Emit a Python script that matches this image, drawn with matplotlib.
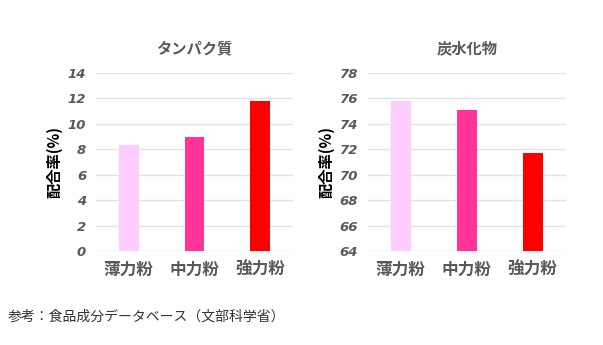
import matplotlib
matplotlib.use('Agg')
import matplotlib.pyplot as plt

plt.rcParams['font.family'] = ['Noto Sans CJK JP', 'DejaVu Sans']

# %%
flours = ['薄力粉', '中力粉', '強力粉']
protein = [8.3, 9.0, 11.8]
carbs = [75.8, 75.1, 71.7]
colors = ['#FFCCFF', '#FF3399', '#FF0000']

protein_ticks = [0, 2, 4, 6, 8, 10, 12, 14]
carb_ticks = [64, 66, 68, 70, 72, 74, 76, 78]

gray = '#595959'

# %%
def draw_panel(ax, values, ticks, title):
    ax.bar(range(len(flours)), [v - ticks[0] for v in values], bottom=ticks[0],
           width=0.3, color=colors, zorder=3)
    ax.set_xlim(-0.5, 2.5)
    ax.set_ylim(ticks[0], ticks[-1])
    ax.set_yticks(ticks)
    ax.set_yticklabels([str(t) for t in ticks], fontsize=9.5, color=gray,
                       fontweight='bold', style='italic', family=['DejaVu Sans'])
    ax.set_xticks(range(len(flours)))
    ax.set_xticklabels(flours, fontsize=12, color=gray, fontweight='bold')
    ax.tick_params(axis='both', length=0)
    ax.tick_params(axis='y', pad=7)
    ax.tick_params(axis='x', pad=7)
    ax.yaxis.grid(True, color='#E3E3E3', lw=1, zorder=0)
    for s in ax.spines.values():
        s.set_visible(False)
    ax.set_title(title, fontsize=11, color=gray, fontweight='bold', pad=14)
    ax.set_ylabel('配合率(%)', fontsize=11, fontweight='bold', color='black', labelpad=4)


fig = plt.figure(figsize=(6.03, 3.45), dpi=100)
ax1 = fig.add_axes([0.159, 0.2725, 0.327, 0.516])
ax2 = fig.add_axes([0.610, 0.2725, 0.328, 0.516])

draw_panel(ax1, protein, protein_ticks, 'タンパク質')
draw_panel(ax2, carbs, carb_ticks, '炭水化物')

fig.text(0.013, 0.083, '参考：食品成分データベース（文部科学省）', fontsize=10, color='#333333',
         va='center', ha='left')

fig.savefig('out.png', dpi=100)
